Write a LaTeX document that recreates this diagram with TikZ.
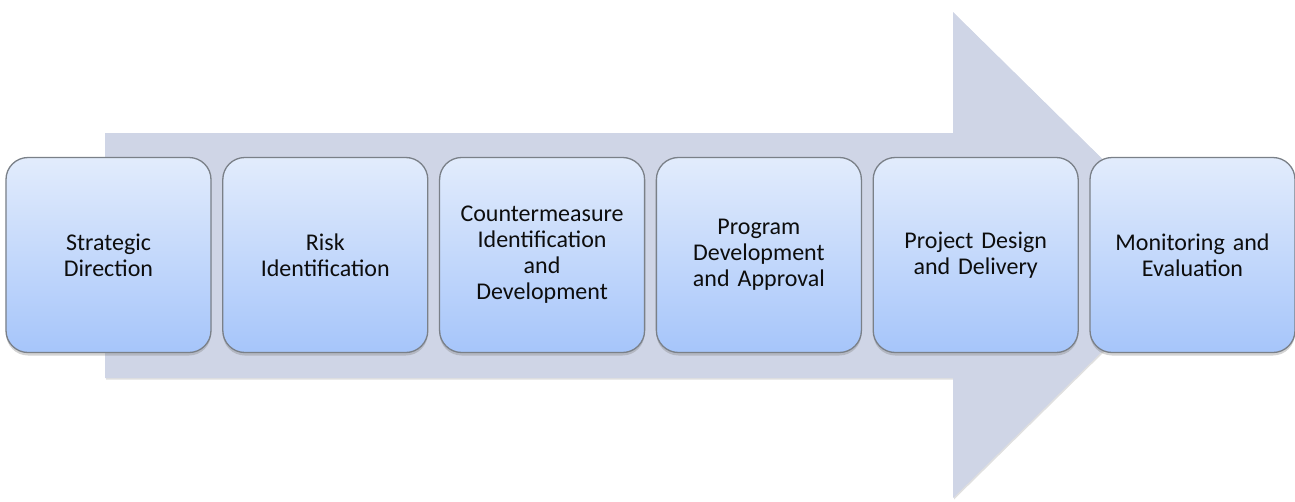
\documentclass[tikz,border=0pt]{standalone}
\usepackage{fontspec}
\setmainfont[WordSpace=0.6]{Carlito}
\usepackage{xcolor}
\usepackage{tikz}
\usetikzlibrary{matrix,shadows}

\definecolor{arrowgray}{RGB}{207,213,230}
\definecolor{boxtop}{RGB}{226,236,252}
\definecolor{boxbottom}{RGB}{166,197,250}
\definecolor{boxline}{RGB}{122,128,136}

\begin{document}
\begin{tikzpicture}[x=1pt,y=-1pt,
  stepbox/.style={draw=boxline, line width=1.3pt, rounded corners=22pt,
    top color=boxtop, bottom color=boxbottom,
    minimum width=205pt, minimum height=195pt, text width=192pt,
    align=center, anchor=center, text=black!95,
    font=\fontsize{24}{26}\selectfont,
    drop shadow={shadow xshift=0pt, shadow yshift=-3pt, opacity=.35}}]
\useasboundingbox (0,0) rectangle (1295,501);
% process arrow behind the steps
\fill[arrowgray, drop shadow={shadow xshift=1pt, shadow yshift=-1.5pt, opacity=.25}]
  (105,133) -- (953,133) -- (953,12) -- (1200,255) -- (953,498) -- (953,378) -- (105,378) -- cycle;
\matrix[matrix of nodes, nodes={stepbox}, column sep=10.5pt] (steps) at (650.5,255) {
 {Strategic\\Direction} & {Risk\\Identification} & {Countermeasure\\Identification\\and\\Development} & {Program\\Development\\and Approval} & {Project Design\\and Delivery} & {Monitoring and\\Evaluation} \\
};
\end{tikzpicture}
\end{document}
